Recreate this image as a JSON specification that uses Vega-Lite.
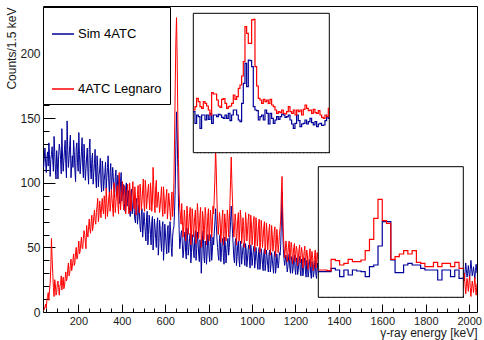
{
"$schema":"https://vega.github.io/schema/vega-lite/v6.json",
"width":434,"height":306,
"autosize":{"type":"none"},
"padding":{"left":43,"top":6,"right":7,"bottom":28},
"background":"#ffffff",
"config":{"font":"Liberation Sans","view":{"stroke":"#000","strokeWidth":1},
"axis":{"grid":false,"domain":false,"labelFlush":false,"labelOverlap":false,"zindex":1,"tickColor":"#000","tickWidth":1,"labelColor":"#1a1a1a","titleColor":"#1a1a1a","titleFontWeight":"normal"},
"legend":{"strokeWidth":1}},
"datasets":{
"main":[
{"e":40,"s":112,"l":1},{"e":43,"s":120,"l":2},{"e":46,"s":127,"l":4},{"e":49,"s":116,"l":6},{"e":52,"s":108,"l":3},{"e":55,"s":119,"l":9},{"e":58,"s":124,"l":12},{"e":61,"s":113,"l":15},{"e":64,"s":131,"l":9},{"e":67,"s":122,"l":17},
{"e":70,"s":105,"l":22},{"e":73,"s":118,"l":35},{"e":76,"s":122,"l":57},{"e":79,"s":128,"l":41},{"e":82,"s":117,"l":30},{"e":85,"s":109,"l":19},{"e":88,"s":136,"l":12},{"e":91,"s":124,"l":25},{"e":94,"s":110,"l":21},{"e":97,"s":103,"l":13},
{"e":100,"s":125,"l":15},{"e":103,"s":116,"l":22},{"e":106,"s":103,"l":24},{"e":109,"s":121,"l":19},{"e":112,"s":130,"l":13},{"e":115,"s":126,"l":20},{"e":118,"s":118,"l":22},{"e":121,"s":107,"l":28},{"e":124,"s":142,"l":17},{"e":127,"s":120,"l":23},
{"e":130,"s":109,"l":27},{"e":133,"s":117,"l":18},{"e":136,"s":126,"l":20},{"e":139,"s":133,"l":26},{"e":142,"s":115,"l":31},{"e":145,"s":104,"l":24},{"e":148,"s":148,"l":26},{"e":151,"s":125,"l":33},{"e":154,"s":112,"l":38},{"e":157,"s":119,"l":28},
{"e":160,"s":129,"l":30},{"e":163,"s":137,"l":36},{"e":166,"s":104,"l":41},{"e":169,"s":113,"l":32},{"e":172,"s":121,"l":35},{"e":175,"s":112,"l":40},{"e":178,"s":133,"l":45},{"e":181,"s":124,"l":36},{"e":184,"s":110,"l":38},{"e":187,"s":101,"l":46},
{"e":190,"s":127,"l":50},{"e":193,"s":131,"l":41},{"e":196,"s":116,"l":42},{"e":199,"s":109,"l":49},{"e":202,"s":139,"l":55},{"e":205,"s":122,"l":45},{"e":208,"s":107,"l":47},{"e":211,"s":115,"l":53},{"e":214,"s":124,"l":58},{"e":217,"s":135,"l":50},
{"e":220,"s":113,"l":49},{"e":223,"s":104,"l":57},{"e":226,"s":130,"l":63},{"e":229,"s":118,"l":60},{"e":232,"s":102,"l":54},{"e":235,"s":111,"l":49},{"e":238,"s":120,"l":67},{"e":241,"s":127,"l":61},{"e":244,"s":108,"l":58},{"e":247,"s":99,"l":66},
{"e":250,"s":126,"l":72},{"e":253,"s":134,"l":64},{"e":256,"s":111,"l":61},{"e":259,"s":103,"l":70},{"e":262,"s":118,"l":75},{"e":265,"s":123,"l":63},{"e":268,"s":99,"l":66},{"e":271,"s":108,"l":74},{"e":274,"s":115,"l":79},{"e":277,"s":126,"l":71},
{"e":280,"s":104,"l":68},{"e":283,"s":96,"l":77},{"e":286,"s":121,"l":82},{"e":289,"s":113,"l":88},{"e":292,"s":97,"l":70},{"e":295,"s":106,"l":75},{"e":298,"s":110,"l":86},{"e":301,"s":119,"l":80},{"e":304,"s":100,"l":73},{"e":307,"s":93,"l":82},
{"e":310,"s":117,"l":88},{"e":313,"s":110,"l":79},{"e":316,"s":94,"l":76},{"e":319,"s":102,"l":90},{"e":322,"s":108,"l":84},{"e":325,"s":116,"l":72},{"e":328,"s":96,"l":96},{"e":331,"s":104,"l":85},{"e":334,"s":112,"l":74},{"e":337,"s":121,"l":81},
{"e":340,"s":100,"l":89},{"e":343,"s":92,"l":93},{"e":346,"s":108,"l":78},{"e":349,"s":115,"l":84},{"e":352,"s":95,"l":95},{"e":355,"s":102,"l":88},{"e":358,"s":112,"l":80},{"e":361,"s":104,"l":74},{"e":364,"s":96,"l":100},{"e":367,"s":89,"l":90},
{"e":370,"s":105,"l":77},{"e":373,"s":110,"l":85},{"e":376,"s":90,"l":92},{"e":379,"s":97,"l":98},{"e":382,"s":106,"l":83},{"e":385,"s":99,"l":76},{"e":388,"s":91,"l":108},{"e":391,"s":84,"l":94},{"e":394,"s":101,"l":79},{"e":397,"s":108,"l":86},
{"e":400,"s":86,"l":94},{"e":403,"s":93,"l":101},{"e":406,"s":99,"l":84},{"e":409,"s":90,"l":79},{"e":412,"s":84,"l":98},{"e":415,"s":78,"l":91},{"e":418,"s":96,"l":76},{"e":421,"s":100,"l":83},{"e":424,"s":82,"l":92},{"e":427,"s":89,"l":99},
{"e":430,"s":94,"l":82},{"e":433,"s":85,"l":76},{"e":436,"s":78,"l":100},{"e":439,"s":74,"l":92},{"e":442,"s":91,"l":78},{"e":445,"s":95,"l":85},{"e":448,"s":76,"l":93},{"e":451,"s":82,"l":101},{"e":454,"s":88,"l":86},{"e":457,"s":79,"l":80},
{"e":460,"s":72,"l":97},{"e":463,"s":69,"l":90},{"e":466,"s":84,"l":75},{"e":469,"s":88,"l":82},{"e":472,"s":68,"l":91},{"e":475,"s":74,"l":98},{"e":478,"s":83,"l":82},{"e":481,"s":77,"l":77},{"e":484,"s":66,"l":99},{"e":487,"s":62,"l":92},
{"e":490,"s":76,"l":79},{"e":493,"s":80,"l":86},{"e":496,"s":58,"l":95},{"e":499,"s":66,"l":103},{"e":502,"s":77,"l":84},{"e":505,"s":70,"l":78},{"e":508,"s":62,"l":102},{"e":511,"s":55,"l":95},{"e":514,"s":73,"l":80},{"e":517,"s":78,"l":87},
{"e":520,"s":52,"l":94},{"e":523,"s":60,"l":99},{"e":526,"s":75,"l":86},{"e":529,"s":68,"l":79},{"e":532,"s":60,"l":100},{"e":535,"s":52,"l":93},{"e":538,"s":70,"l":78},{"e":541,"s":74,"l":86},{"e":544,"s":48,"l":112},{"e":547,"s":57,"l":98},
{"e":550,"s":72,"l":83},{"e":553,"s":66,"l":77},{"e":556,"s":57,"l":96},{"e":559,"s":50,"l":102},{"e":562,"s":68,"l":81},{"e":565,"s":73,"l":88},{"e":568,"s":44,"l":93},{"e":571,"s":53,"l":86},{"e":574,"s":71,"l":77},{"e":577,"s":64,"l":83},
{"e":580,"s":55,"l":90},{"e":583,"s":47,"l":97},{"e":586,"s":66,"l":80},{"e":589,"s":70,"l":74},{"e":592,"s":40,"l":97},{"e":595,"s":51,"l":89},{"e":598,"s":68,"l":76},{"e":601,"s":61,"l":83},{"e":604,"s":52,"l":89},{"e":607,"s":45,"l":95},
{"e":610,"s":63,"l":72},{"e":613,"s":67,"l":80},{"e":616,"s":46,"l":92},{"e":619,"s":55,"l":86},{"e":622,"s":70,"l":78},{"e":625,"s":62,"l":71},{"e":628,"s":50,"l":86},{"e":631,"s":43,"l":93},{"e":634,"s":58,"l":74},{"e":637,"s":64,"l":82},
{"e":640,"s":66,"l":100},{"e":643,"s":78,"l":135},{"e":646,"s":95,"l":175},{"e":649,"s":128,"l":210},{"e":652,"s":155,"l":228},{"e":655,"s":138,"l":196},{"e":658,"s":112,"l":150},{"e":661,"s":85,"l":118},{"e":664,"s":64,"l":92},{"e":667,"s":49,"l":80},
{"e":670,"s":55,"l":75},{"e":673,"s":61,"l":68},{"e":676,"s":63,"l":84},{"e":679,"s":52,"l":71},{"e":682,"s":42,"l":58},{"e":685,"s":48,"l":66},{"e":688,"s":58,"l":79},{"e":691,"s":62,"l":72},{"e":694,"s":46,"l":55},{"e":697,"s":41,"l":63},
{"e":700,"s":65,"l":82},{"e":703,"s":58,"l":76},{"e":706,"s":44,"l":60},{"e":709,"s":50,"l":68},{"e":712,"s":57,"l":76},{"e":715,"s":61,"l":81},{"e":718,"s":38,"l":52},{"e":721,"s":46,"l":61},{"e":724,"s":60,"l":80},{"e":727,"s":54,"l":73},
{"e":730,"s":47,"l":58},{"e":733,"s":42,"l":66},{"e":736,"s":58,"l":74},{"e":739,"s":63,"l":79},{"e":742,"s":40,"l":53},{"e":745,"s":49,"l":62},{"e":748,"s":62,"l":84},{"e":751,"s":55,"l":77},{"e":754,"s":45,"l":57},{"e":757,"s":39,"l":65},
{"e":760,"s":56,"l":75},{"e":763,"s":52,"l":81},{"e":766,"s":30,"l":50},{"e":769,"s":44,"l":59},{"e":772,"s":59,"l":78},{"e":775,"s":63,"l":72},{"e":778,"s":43,"l":56},{"e":781,"s":38,"l":64},{"e":784,"s":55,"l":81},{"e":787,"s":51,"l":75},
{"e":790,"s":37,"l":52},{"e":793,"s":45,"l":61},{"e":796,"s":60,"l":74},{"e":799,"s":57,"l":80},{"e":802,"s":44,"l":55},{"e":805,"s":39,"l":63},{"e":808,"s":56,"l":79},{"e":811,"s":60,"l":72},{"e":814,"s":40,"l":58},{"e":817,"s":47,"l":67},
{"e":820,"s":58,"l":82},{"e":823,"s":52,"l":76},{"e":826,"s":62,"l":90},{"e":829,"s":70,"l":104},{"e":832,"s":80,"l":127},{"e":835,"s":68,"l":110},{"e":838,"s":58,"l":88},{"e":841,"s":50,"l":72},{"e":844,"s":44,"l":60},{"e":847,"s":40,"l":68},
{"e":850,"s":57,"l":77},{"e":853,"s":60,"l":71},{"e":856,"s":39,"l":54},{"e":859,"s":46,"l":62},{"e":862,"s":54,"l":73},{"e":865,"s":57,"l":79},{"e":868,"s":42,"l":52},{"e":871,"s":37,"l":60},{"e":874,"s":58,"l":76},{"e":877,"s":52,"l":70},
{"e":880,"s":38,"l":55},{"e":883,"s":45,"l":64},{"e":886,"s":53,"l":79},{"e":889,"s":57,"l":73},{"e":892,"s":44,"l":58},{"e":895,"s":50,"l":69},{"e":898,"s":60,"l":84},{"e":901,"s":70,"l":102},{"e":904,"s":82,"l":120},{"e":907,"s":72,"l":100},
{"e":910,"s":61,"l":85},{"e":913,"s":52,"l":70},{"e":916,"s":42,"l":58},{"e":919,"s":38,"l":66},{"e":922,"s":54,"l":76},{"e":925,"s":57,"l":70},{"e":928,"s":36,"l":52},{"e":931,"s":43,"l":61},{"e":934,"s":52,"l":72},{"e":937,"s":55,"l":77},
{"e":940,"s":40,"l":55},{"e":943,"s":35,"l":63},{"e":946,"s":55,"l":79},{"e":949,"s":50,"l":72},{"e":952,"s":37,"l":53},{"e":955,"s":44,"l":60},{"e":958,"s":50,"l":73},{"e":961,"s":53,"l":67},{"e":964,"s":41,"l":50},{"e":967,"s":36,"l":58},
{"e":970,"s":53,"l":77},{"e":973,"s":48,"l":70},{"e":976,"s":35,"l":55},{"e":979,"s":41,"l":62},{"e":982,"s":49,"l":71},{"e":985,"s":52,"l":76},{"e":988,"s":39,"l":49},{"e":991,"s":34,"l":57},{"e":994,"s":52,"l":75},{"e":997,"s":47,"l":68},
{"e":1000,"s":36,"l":52},{"e":1003,"s":42,"l":60},{"e":1006,"s":48,"l":70},{"e":1009,"s":51,"l":74},{"e":1012,"s":34,"l":47},{"e":1015,"s":39,"l":55},{"e":1018,"s":50,"l":73},{"e":1021,"s":45,"l":66},{"e":1024,"s":38,"l":51},{"e":1027,"s":33,"l":58},
{"e":1030,"s":47,"l":68},{"e":1033,"s":50,"l":72},{"e":1036,"s":33,"l":46},{"e":1039,"s":38,"l":54},{"e":1042,"s":49,"l":71},{"e":1045,"s":44,"l":64},{"e":1048,"s":37,"l":50},{"e":1051,"s":32,"l":57},{"e":1054,"s":46,"l":66},{"e":1057,"s":49,"l":70},
{"e":1060,"s":32,"l":45},{"e":1063,"s":37,"l":52},{"e":1066,"s":48,"l":69},{"e":1069,"s":43,"l":62},{"e":1072,"s":36,"l":48},{"e":1075,"s":31,"l":55},{"e":1078,"s":45,"l":64},{"e":1081,"s":48,"l":68},{"e":1084,"s":31,"l":44},{"e":1087,"s":36,"l":51},
{"e":1090,"s":46,"l":67},{"e":1093,"s":41,"l":60},{"e":1096,"s":35,"l":47},{"e":1099,"s":30,"l":53},{"e":1102,"s":44,"l":62},{"e":1105,"s":47,"l":66},{"e":1108,"s":30,"l":43},{"e":1111,"s":35,"l":50},{"e":1114,"s":45,"l":64},{"e":1117,"s":40,"l":58},
{"e":1120,"s":34,"l":46},{"e":1123,"s":38,"l":52},{"e":1126,"s":46,"l":60},{"e":1129,"s":44,"l":65},{"e":1132,"s":52,"l":72},{"e":1135,"s":70,"l":92},{"e":1138,"s":93,"l":105},{"e":1141,"s":66,"l":80},{"e":1144,"s":49,"l":60},{"e":1147,"s":41,"l":51},
{"e":1150,"s":36,"l":42},{"e":1153,"s":40,"l":48},{"e":1156,"s":44,"l":55},{"e":1159,"s":38,"l":50},{"e":1162,"s":31,"l":39},{"e":1165,"s":35,"l":45},{"e":1168,"s":42,"l":52},{"e":1171,"s":45,"l":55},{"e":1174,"s":34,"l":40},{"e":1177,"s":30,"l":46},
{"e":1180,"s":43,"l":54},{"e":1183,"s":40,"l":50},{"e":1186,"s":30,"l":37},{"e":1189,"s":34,"l":43},{"e":1192,"s":41,"l":50},{"e":1195,"s":44,"l":53},{"e":1198,"s":33,"l":39},{"e":1201,"s":29,"l":45},{"e":1204,"s":42,"l":51},{"e":1207,"s":39,"l":48},
{"e":1210,"s":29,"l":36},{"e":1213,"s":33,"l":42},{"e":1216,"s":40,"l":48},{"e":1219,"s":43,"l":52},{"e":1222,"s":32,"l":38},{"e":1225,"s":28,"l":44},{"e":1228,"s":41,"l":50},{"e":1231,"s":37,"l":46},{"e":1234,"s":28,"l":34},{"e":1237,"s":32,"l":41},
{"e":1240,"s":39,"l":47},{"e":1243,"s":42,"l":51},{"e":1246,"s":31,"l":36},{"e":1249,"s":27,"l":42},{"e":1252,"s":40,"l":48},{"e":1255,"s":36,"l":44},{"e":1258,"s":27,"l":33},{"e":1261,"s":31,"l":39},{"e":1264,"s":38,"l":45},{"e":1267,"s":41,"l":49},
{"e":1270,"s":30,"l":35},{"e":1273,"s":26,"l":41},{"e":1276,"s":39,"l":47},{"e":1279,"s":35,"l":42},{"e":1282,"s":27,"l":32},{"e":1285,"s":30,"l":38},{"e":1288,"s":37,"l":44},{"e":1291,"s":40,"l":48},{"e":1294,"s":29,"l":34},{"e":1297,"s":26,"l":40},
{"e":1300,"s":38,"l":46},{"e":1303,"s":34,"l":41},{"e":1306,"s":30,"l":36},{"e":1350,"s":33,"l":40},{"e":1400,"s":32,"l":38},{"e":1460,"s":34,"l":37},{"e":1500,"s":31,"l":35},{"e":1600,"s":30,"l":33},{"e":1700,"s":29,"l":30},{"e":1800,"s":28,"l":28},
{"e":1900,"s":29,"l":26},{"e":1960,"s":30,"l":24},{"e":1972,"s":34,"l":18},{"e":1975,"s":29,"l":24},{"e":1978,"s":24,"l":30},{"e":1981,"s":31,"l":21},{"e":1984,"s":38,"l":14},{"e":1987,"s":33,"l":20},{"e":1990,"s":27,"l":26},{"e":1993,"s":30,"l":22},
{"e":1996,"s":36,"l":16},{"e":1999,"s":31,"l":23},{"e":2002,"s":25,"l":28},{"e":2005,"s":33,"l":19},{"e":2008,"s":40,"l":12},{"e":2011,"s":34,"l":18},{"e":2014,"s":28,"l":24},{"e":2017,"s":31,"l":20},{"e":2020,"s":35,"l":15},{"e":2023,"s":30,"l":21},
{"e":2026,"s":26,"l":27},{"e":2029,"s":32,"l":19},{"e":2032,"s":37,"l":13},{"e":2036,"s":30,"l":22}
],
"in1":[
{"x":10,"r":128,"b":123},{"x":15,"r":138,"b":88},{"x":20,"r":163,"b":113},{"x":25,"r":153,"b":108},{"x":30,"r":138,"b":73},{"x":35,"r":133,"b":113},{"x":40,"r":153,"b":113},{"x":45,"r":148,"b":98},{"x":50,"r":140,"b":113},{"x":55,"r":128,"b":100},
{"x":60,"r":113,"b":118},{"x":65,"r":180,"b":88},{"x":70,"r":176,"b":113},{"x":75,"r":176,"b":113},{"x":80,"r":158,"b":108},{"x":85,"r":140,"b":115},{"x":90,"r":136,"b":113},{"x":95,"r":160,"b":106},{"x":100,"r":162,"b":103},{"x":105,"r":148,"b":113},
{"x":110,"r":133,"b":103},{"x":115,"r":138,"b":118},{"x":120,"r":140,"b":96},{"x":125,"r":148,"b":113},{"x":130,"r":173,"b":128},{"x":135,"r":160,"b":128},{"x":140,"r":168,"b":113},{"x":145,"r":193,"b":98},{"x":150,"r":203,"b":93},{"x":155,"r":230,"b":148},
{"x":160,"r":273,"b":208},{"x":165,"r":378,"b":268},{"x":170,"r":358,"b":198},{"x":175,"r":328,"b":278},{"x":180,"r":328,"b":276},{"x":185,"r":398,"b":258},{"x":190,"r":400,"b":138},{"x":195,"r":258,"b":128},{"x":200,"r":200,"b":126},{"x":205,"r":163,"b":98},
{"x":210,"r":158,"b":108},{"x":215,"r":148,"b":113},{"x":220,"r":160,"b":98},{"x":225,"r":153,"b":128},{"x":230,"r":158,"b":118},{"x":235,"r":148,"b":86},{"x":240,"r":160,"b":118},{"x":245,"r":143,"b":103},{"x":250,"r":138,"b":88},{"x":255,"r":128,"b":98},
{"x":260,"r":118,"b":108},{"x":265,"r":123,"b":100},{"x":270,"r":120,"b":108},{"x":275,"r":128,"b":116},{"x":280,"r":118,"b":113},{"x":285,"r":116,"b":106},{"x":290,"r":123,"b":108},{"x":295,"r":138,"b":113},{"x":300,"r":123,"b":98},{"x":305,"r":118,"b":86},
{"x":310,"r":128,"b":73},{"x":315,"r":113,"b":88},{"x":320,"r":128,"b":113},{"x":325,"r":123,"b":96},{"x":330,"r":128,"b":78},{"x":335,"r":113,"b":86},{"x":340,"r":130,"b":88},{"x":345,"r":143,"b":98},{"x":350,"r":133,"b":86},{"x":355,"r":126,"b":93},
{"x":360,"r":128,"b":103},{"x":365,"r":118,"b":90},{"x":370,"r":130,"b":83},{"x":375,"r":120,"b":93},{"x":380,"r":118,"b":78},{"x":385,"r":126,"b":86},{"x":390,"r":113,"b":88},{"x":395,"r":106,"b":82},{"x":400,"r":103,"b":83},{"x":405,"r":113,"b":96},
{"x":410,"r":108,"b":108},{"x":415,"r":133,"b":103},{"x":418,"r":133,"b":103}
],
"in2":[
{"i":0,"r":82,"b":77},{"i":1,"r":82,"b":77},{"i":2,"r":80,"b":77},{"i":3,"r":114,"b":87},{"i":4,"r":110,"b":82},{"i":5,"r":97,"b":62},{"i":6,"r":102,"b":82},{"i":7,"r":114,"b":67},{"i":8,"r":107,"b":82},{"i":9,"r":107,"b":79},
{"i":10,"r":112,"b":77},{"i":11,"r":140,"b":62},{"i":12,"r":174,"b":92},{"i":13,"r":237,"b":97},{"i":14,"r":294,"b":154},{"i":15,"r":230,"b":227},{"i":16,"r":222,"b":227},{"i":17,"r":114,"b":112},{"i":18,"r":122,"b":74},{"i":19,"r":130,"b":74},
{"i":20,"r":140,"b":97},{"i":21,"r":130,"b":102},{"i":22,"r":140,"b":97},{"i":23,"r":105,"b":97},{"i":24,"r":102,"b":87},{"i":25,"r":92,"b":82},{"i":26,"r":92,"b":82},{"i":27,"r":105,"b":82},{"i":28,"r":92,"b":52},{"i":29,"r":102,"b":82},
{"i":30,"r":102,"b":82},{"i":31,"r":92,"b":62},{"i":32,"r":105,"b":82},{"i":33,"r":87,"b":57},{"i":34,"r":87,"b":57}
]
},
"resolve":{"scale":{"x":"independent","y":"independent"},"axis":{"x":"independent","y":"independent"}},
"layer":[
{"data":{"name":"main"},"mark":{"type":"line","strokeWidth":1,"clip":true},
"encoding":{
"x":{"field":"e","type":"quantitative","scale":{"domain":[37,2036],"nice":false,"zero":false},
"axis":{"orient":"bottom","values":[50,100,150,200,250,300,350,400,450,500,550,600,650,700,750,800,850,900,950,1000,1050,1100,1150,1200,1250,1300,1350,1400,1450,1500,1550,1600,1650,1700,1750,1800,1850,1900,1950,2000],"tickSize":-4,"labels":false,"title":null}},
"y":{"field":"s","type":"quantitative","scale":{"domain":[0,237],"nice":false},
"axis":{"orient":"left","values":[10,20,30,40,60,70,80,90,110,120,130,140,160,170,180,190,210,220,230],"tickSize":-6,"labels":false,"title":null}},
"color":{"datum":"Sim 4ATC","type":"nominal","scale":{"domain":["Sim 4ATC","4ATC Legnaro"],"range":["#000099","#ff0000"]},
"legend":{"title":" ","titleFontSize":3,"titlePadding":4,"orient":"none","legendX":0,"legendY":1,"symbolType":"stroke","symbolSize":484,"symbolStrokeWidth":1.5,"labelFontSize":13,"labelFont":"Liberation Sans","labelColor":"#000","labelOffset":3,"padding":8,"rowPadding":36,"strokeColor":"#000","fillColor":"#fff","zindex":2}}
}},
{"data":{"name":"main"},"mark":{"type":"line","strokeWidth":1,"clip":true},
"encoding":{
"x":{"field":"e","type":"quantitative","scale":{"domain":[37,2036],"nice":false,"zero":false},
"axis":{"orient":"bottom","values":[200,400,600,800,1000,1200,1400,1600,1800,2000],"format":"d","tickSize":-8,"labelPadding":11,"labelFontSize":11,"title":"γ-ray energy [keV]","titleFontSize":12,"titleX":434,"titleY":24.5,"titleAlign":"right","titleBaseline":"alphabetic","titleAngle":0}},
"y":{"field":"l","type":"quantitative","scale":{"domain":[0,237],"nice":false},
"axis":{"orient":"left","values":[0,50,100,150,200],"format":"d","tickSize":-12,"labelPadding":15,"labelFontSize":12,"title":"Counts/1.5 keV","titleFontSize":12,"titleX":-28,"titleY":1,"titleAngle":-90,"titleAlign":"right","titleBaseline":"alphabetic"}},
"color":{"datum":"4ATC Legnaro","type":"nominal"}
}},
{"data":{"values":[{}]},"mark":{"type":"rect","fill":"#fff","stroke":"#000","strokeWidth":1},
"encoding":{
"x":{"datum":10,"type":"quantitative","scale":{"domain":[10,418],"range":[150.3,286.3],"nice":false,"zero":false},
"axis":{"orient":"bottom","offset":-159.3,"values":[42,97,152,207,262,317,372],"tickSize":-4,"labels":false,"title":null}},
"x2":{"datum":418},
"y":{"datum":0,"type":"quantitative","scale":{"domain":[0,418],"range":[146.7,7.3],"nice":false,"zero":false},
"axis":{"orient":"left","offset":-150.3,"values":[91,179,267,355],"tickSize":-4,"labels":false,"title":null}},
"y2":{"datum":418}
}},
{"data":{"name":"in1"},"mark":{"type":"line","interpolate":"step-after","color":"#000099","strokeWidth":1.2},
"encoding":{
"x":{"field":"x","type":"quantitative","scale":{"domain":[10,418],"range":[150.3,286.3],"nice":false,"zero":false},"axis":null},
"y":{"field":"b","type":"quantitative","scale":{"domain":[0,418],"range":[146.7,7.3],"nice":false,"zero":false},"axis":null}
}},
{"data":{"name":"in1"},"mark":{"type":"line","interpolate":"step-after","color":"#ff0000","strokeWidth":1.2},
"encoding":{
"x":{"field":"x","type":"quantitative","scale":{"domain":[10,418],"range":[150.3,286.3],"nice":false,"zero":false},
"axis":{"orient":"bottom","offset":-159.3,"values":[20,31,53,64,75,86,108,119,130,141,163,174,185,196,218,229,240,251,273,284,295,306,328,339,350,361,383,394,405,416],"tickSize":-2,"labels":false,"title":null}},
"y":{"field":"r","type":"quantitative","scale":{"domain":[0,418],"range":[146.7,7.3],"nice":false,"zero":false},
"axis":{"orient":"left","offset":-150.3,"values":[20.6,38.2,55.8,73.4,108.6,126.2,143.8,161.4,196.6,214.2,231.8,249.4,284.6,302.2,319.8,337.4,372.6,390.2,407.8],"tickSize":-2,"labels":false,"title":null}}
}},
{"data":{"values":[{}]},"mark":{"type":"rect","fill":"#fff","stroke":"#000","strokeWidth":1},
"encoding":{
"x":{"datum":0,"type":"quantitative","scale":{"domain":[0,34],"range":[275.3,420.3],"nice":false,"zero":false},
"axis":{"orient":"bottom","offset":-14.7,"values":[3.5,10.1,16.7,23.3,29.9],"tickSize":-4,"labels":false,"title":null}},
"x2":{"datum":34},
"y":{"datum":0,"type":"quantitative","scale":{"domain":[0,392],"range":[291.3,160.7],"nice":false,"zero":false},
"axis":{"orient":"left","offset":-275.3,"values":[79,162,244,327],"tickSize":-4,"labels":false,"title":null}},
"y2":{"datum":392}
}},
{"data":{"name":"in2"},"mark":{"type":"line","interpolate":"step-after","color":"#000099","strokeWidth":1.2},
"encoding":{
"x":{"field":"i","type":"quantitative","scale":{"domain":[0,34],"range":[275.3,420.3],"nice":false,"zero":false},"axis":null},
"y":{"field":"b","type":"quantitative","scale":{"domain":[0,392],"range":[291.3,160.7],"nice":false,"zero":false},"axis":null}
}},
{"data":{"name":"in2"},"mark":{"type":"line","interpolate":"step-after","color":"#ff0000","strokeWidth":1.2},
"encoding":{
"x":{"field":"i","type":"quantitative","scale":{"domain":[0,34],"range":[275.3,420.3],"nice":false,"zero":false},
"axis":{"orient":"bottom","offset":-14.7,"values":[0.86,2.18,4.82,6.14,7.46,8.78,11.42,12.74,14.06,15.38,18.02,19.34,20.66,21.98,24.62,25.94,27.26,28.58,31.22,32.54,33.86],"tickSize":-2,"labels":false,"title":null}},
"y":{"field":"r","type":"quantitative","scale":{"domain":[0,392],"range":[291.3,160.7],"nice":false,"zero":false},
"axis":{"orient":"left","offset":-275.3,"values":[13,29.5,46,62.5,95.5,112,128.5,145,178.5,195,211.5,228,260.5,277,293.5,310,343.5,360,376.5],"tickSize":-2,"labels":false,"title":null}}
}}
]
}
